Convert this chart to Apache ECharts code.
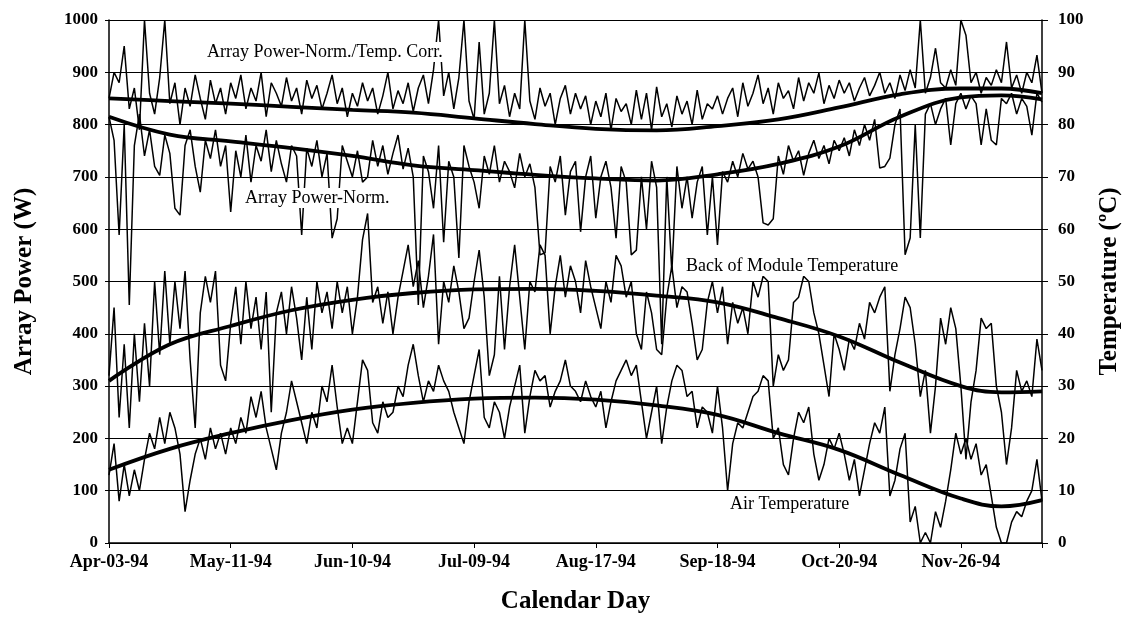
<!DOCTYPE html>
<html>
<head>
<meta charset="utf-8">
<title>Array Power and Temperature</title>
<script src="https://cdn.jsdelivr.net/npm/echarts@6/dist/echarts.min.js"></script>
<style>
  html, body { margin: 0; padding: 0; background: #fff; }
  #main { width: 1130px; height: 621px; }
</style>
</head>
<body>
<div id="main"></div>
<script>
// x axis: record index, one date label every 24 records
const dayLabels = ['Apr-03-94', 'May-11-94', 'Jun-10-94', 'Jul-09-94', 'Aug-17-94', 'Sep-18-94', 'Oct-20-94', 'Nov-26-94'];
const labelStep = 24;
const lastIndex = 184;

// Array Power-Norm./Temp. Corr. (W)
const powerCorr = [
    850, 900, 880, 950, 830, 870, 790, 1000, 860, 820, 890, 1000,
    840, 880, 800, 870, 835, 895, 850, 810, 885, 840, 870, 820,
    880, 850, 895, 830, 870, 845, 900, 815, 880, 860, 835, 890,
    845, 870, 820, 885, 850, 875, 830, 860, 895, 840, 870, 815,
    860, 835, 880, 845, 870, 820, 855, 900, 830, 865, 840, 880,
    825, 870, 895, 840, 905, 1000, 855, 900, 830, 890, 1000, 845,
    810, 958, 820, 860, 1000, 840, 875, 815, 860, 830, 1000, 845,
    810, 870, 835, 860, 800, 850, 875, 820, 860, 830, 855, 800,
    845, 815, 860, 790, 850, 825, 840, 800, 866, 810, 860, 790,
    872, 815, 840, 795, 855, 820, 845, 800, 866, 810, 840, 830,
    855, 820, 850, 870, 815, 880, 835, 860, 895, 840, 870, 820,
    880, 850, 865, 830, 890, 845, 880, 860, 899, 840, 875, 850,
    885, 860, 880, 845, 870, 890, 855, 875, 900, 860, 880, 850,
    895, 865, 905, 870, 1000, 860, 890, 946, 880, 870, 905, 875,
    1000, 971, 880, 900, 860, 890, 875, 905, 880, 958, 870, 895,
    860, 900, 880, 933, 860
];

// Array Power-Norm. (W)
const powerNorm = [
    815, 770, 589, 800, 455, 760, 820, 740, 790, 720, 703, 780,
    745, 640, 627, 760, 790, 720, 671, 770, 735, 790, 720, 760,
    633, 750, 700, 780, 690, 760, 730, 790, 710, 770, 725, 690,
    760, 740, 589, 755, 720, 770, 700, 745, 583, 620, 760, 730,
    700, 750, 690, 700, 770, 720, 760, 705, 745, 780, 715, 755,
    700, 455, 740, 710, 640, 760, 575, 730, 700, 545, 760, 720,
    690, 640, 740, 705, 760, 690, 730, 710, 679, 745, 700, 725,
    680, 551, 555, 720, 690, 740, 627, 710, 730, 595, 700, 740,
    621, 700, 730, 680, 583, 720, 690, 551, 560, 700, 600, 730,
    680, 380, 700, 518, 720, 640, 700, 621, 690, 720, 589, 700,
    570, 710, 690, 730, 700, 745, 715, 730, 700, 612, 608, 620,
    740, 705, 760, 730, 750, 703, 745, 770, 735, 760, 725, 770,
    750, 775, 740, 790, 760, 800, 770, 810, 717, 720, 736, 800,
    830, 551, 583, 800, 583, 820, 840, 800, 830, 850, 761, 840,
    860, 830, 855, 840, 761, 830, 770, 761, 850, 840, 860, 820,
    850, 835, 780, 860, 843
];

// Back of Module Temperature (C)
const moduleTemp = [
    32, 45, 24, 38, 22, 40, 27, 42, 30, 50, 36, 52,
    38, 50, 41, 52, 35, 22, 44, 51, 46, 52, 34, 31,
    42, 49, 38, 50, 41, 47, 37, 48, 25, 44, 48, 40,
    49, 43, 35, 47, 37, 50, 44, 48, 41, 50, 44, 49,
    40, 47, 58, 63, 46, 49, 42, 48, 40, 47, 52, 57,
    49, 54, 45, 51, 59, 38, 50, 46, 53, 48, 41, 43,
    50, 56, 47, 32, 36, 51, 37, 49, 57, 47, 37, 50,
    48, 57, 55, 40, 49, 55, 47, 53, 50, 44, 54, 49,
    45, 41, 50, 46, 55, 53, 47, 50, 40, 37, 48, 44,
    37, 36, 47, 53, 45, 49, 48, 42, 35, 37, 46, 50,
    44, 49, 38, 46, 42, 45, 40, 50, 47, 51, 50, 30,
    36, 33, 35, 46, 47, 51, 50, 44, 40, 34, 28, 40,
    37, 33, 39, 37, 42, 39, 46, 44, 47, 49, 29, 36,
    41, 47, 45, 38, 28, 33, 21, 30, 43, 38, 45, 41,
    30, 16, 27, 33, 43, 41, 42, 30, 25, 15, 22, 33,
    29, 31, 28, 39, 33
];

// Air Temperature (C)
const airTemp = [
    13, 19, 8, 15, 9, 14, 10, 16, 21, 18, 24, 19,
    25, 22, 17, 6, 12, 17, 20, 16, 22, 18, 21, 17,
    22, 19, 24, 21, 28, 24, 29, 22, 18, 14, 21, 25,
    31, 27, 23, 19, 25, 22, 30, 27, 34, 26, 19, 22,
    19, 27, 35, 33, 23, 21, 27, 24, 25, 30, 28, 34,
    38, 32, 27, 31, 29, 34, 31, 29, 25, 22, 19, 27,
    32, 37, 24, 22, 27, 25, 20, 26, 30, 34, 21, 28,
    33, 31, 32, 26, 29, 31, 35, 30, 29, 27, 31, 28,
    26, 29, 22, 27, 31, 33, 35, 32, 34, 27, 20, 25,
    30, 19, 26, 31, 34, 33, 28, 29, 22, 26, 25, 21,
    30, 22, 10, 19, 23, 22, 25, 28, 29, 32, 31, 20,
    22, 15, 13, 20, 25, 23, 26, 17, 12, 15, 20, 18,
    21, 17, 12, 16, 9, 14, 19, 23, 21, 26, 9, 12,
    18, 21, 4, 7, 0, 2, 0, 6, 3, 8, 14, 21,
    17, 20, 16, 19, 13, 15, 9, 3, 0, 0, 4, 6,
    5, 8, 10, 16, 8
];

// fitted trend curves, sampled at these record indices
const trendIdx = [0, 12, 24, 36, 48, 60, 72, 84, 96, 108, 120, 132, 144, 156, 168, 176, 184];
const trendCorr = [850, 845, 840, 834, 828, 823, 812, 801, 792, 789, 797, 810, 833, 858, 869, 869, 860];
const trendNorm = [815, 781, 768, 755, 740, 722, 713, 704, 697, 693, 705, 725, 758, 815, 852, 856, 848];
const trendModule = [31, 38, 41.5, 44.5, 46.5, 47.8, 48.5, 48.6, 48.2, 47.3, 46, 43, 39.5, 34.5, 30, 28.8, 29];
const trendAir = [14, 18, 21, 23.5, 25.5, 26.8, 27.6, 27.8, 27.4, 26.3, 24.5, 21, 17.8, 13, 8.5, 7, 8.2];

const FONT = '"Liberation Serif", "Times New Roman", serif';

function noisy(name, values, axis) {
    return {
        name: name,
        type: 'line',
        yAxisIndex: axis,
        data: values.map((v, i) => [i, v]),
        showSymbol: false,
        lineStyle: { color: '#000', width: 1.5 },
        z: 2
    };
}

function trend(name, values, axis) {
    return {
        name: name,
        type: 'line',
        yAxisIndex: axis,
        data: trendIdx.map((d, k) => [d, values[k]]),
        smooth: 0.4,
        showSymbol: false,
        lineStyle: { color: '#000', width: 3.8 },
        z: 3
    };
}

function note(text, left, top) {
    return {
        type: 'text',
        left: left,
        top: top,
        z: 100,
        style: {
            text: text,
            font: '18px ' + FONT,
            fill: '#000',
            backgroundColor: '#fff',
            padding: [1, 2]
        }
    };
}

function initChart() {
    const chart = echarts.init(document.getElementById('main'));

    const axisText = { color: '#000', fontFamily: FONT, fontWeight: 'bold', fontSize: 17 };
    const nameText = { color: '#000', fontFamily: FONT, fontWeight: 'bold', fontSize: 25 };

    const option = {
        animation: false,
        backgroundColor: '#fff',
        grid: { left: 109, right: 85, top: 20, bottom: 78 },
        xAxis: {
            type: 'value',
            min: 0,
            max: lastIndex,
            interval: labelStep,
            name: 'Calendar Day',
            nameLocation: 'middle',
            nameGap: 46,
            nameTextStyle: nameText,
            axisLine: { lineStyle: { color: '#000', width: 1.5 } },
            axisTick: { show: true, length: 5, lineStyle: { color: '#000' } },
            axisLabel: {
                margin: 10,
                fontSize: 18,
                color: '#000',
                fontFamily: FONT,
                fontWeight: 'bold',
                formatter: function (v) {
                    return v % labelStep === 0 ? (dayLabels[v / labelStep] || '') : '';
                }
            },
            splitLine: { show: false }
        },
        yAxis: [{
            type: 'value',
            min: 0,
            max: 1000,
            interval: 100,
            name: 'Array Power (W)',
            nameLocation: 'middle',
            nameRotate: 90,
            nameGap: 72,
            nameTextStyle: nameText,
            axisLine: { show: true, lineStyle: { color: '#000', width: 1.5 } },
            axisTick: { show: true, length: 4, lineStyle: { color: '#000' } },
            axisLabel: Object.assign({ margin: 11, formatter: v => String(v) }, axisText),
            splitLine: { lineStyle: { color: '#000', width: 1.2 } }
        }, {
            type: 'value',
            position: 'right',
            min: 0,
            max: 100,
            interval: 10,
            name: 'Temperature (ºC)',
            nameLocation: 'middle',
            nameRotate: 90,
            nameGap: 55,
            nameTextStyle: nameText,
            axisLine: { show: true, lineStyle: { color: '#000', width: 1.5 } },
            axisTick: { show: true, length: 6, lineStyle: { color: '#000' } },
            axisLabel: Object.assign({ margin: 16, formatter: v => String(v) }, axisText),
            splitLine: { show: false }
        }],
        graphic: [
            note('Array Power-Norm./Temp. Corr.', 205, 42),
            note('Array Power-Norm.', 243, 188),
            note('Back of Module Temperature', 684, 256),
            note('Air Temperature', 728, 494)
        ],
        series: [
            noisy('Array Power-Norm./Temp. Corr.', powerCorr, 0),
            noisy('Array Power-Norm.', powerNorm, 0),
            noisy('Back of Module Temperature', moduleTemp, 1),
            noisy('Air Temperature', airTemp, 1),
            trend('Trend Temp. Corr.', trendCorr, 0),
            trend('Trend Norm.', trendNorm, 0),
            trend('Trend Module', trendModule, 1),
            trend('Trend Air', trendAir, 1)
        ]
    };

    chart.setOption(option);
}

window.onload = function () {
    initChart();
};
</script>
</body>
</html>
